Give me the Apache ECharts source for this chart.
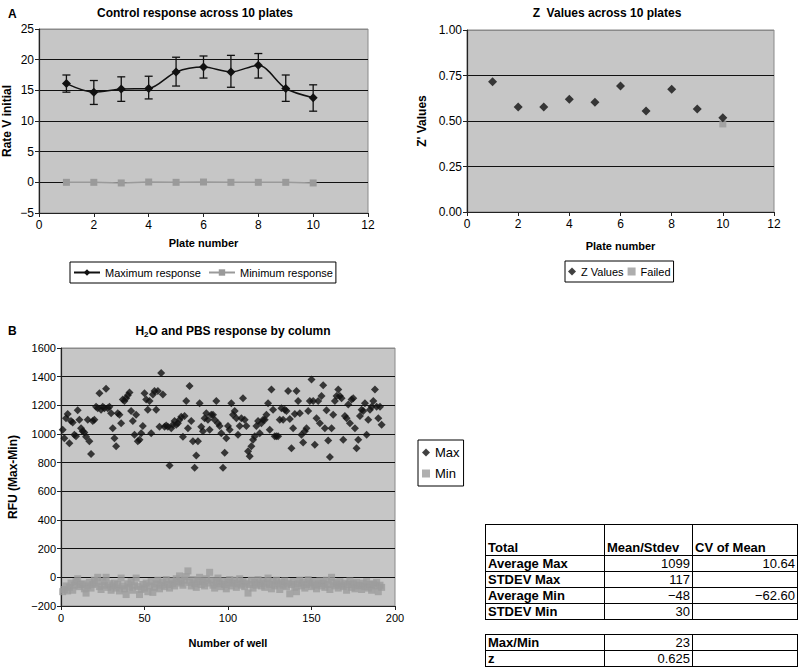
<!DOCTYPE html>
<html><head><meta charset="utf-8">
<script src="https://cdn.jsdelivr.net/npm/echarts@6/dist/echarts.min.js"></script>
<style>
html,body{margin:0;padding:0;background:#fff;}
#c{width:800px;height:667px;position:absolute;left:0;top:0;}
table.t{position:absolute;border-collapse:collapse;font-family:'Liberation Sans',Arial,sans-serif;font-size:13px;color:#000;table-layout:fixed;}
table.t td{border:1px solid #000;padding:0 2px;height:15px;line-height:14px;white-space:nowrap;overflow:hidden;}
table.t td.l{font-weight:bold;text-align:left;}
table.t td.n{text-align:right;}
table.t tr.h td{height:30px;vertical-align:bottom;font-weight:bold;}
</style></head><body>
<div id="c"></div>
<script>
// ---- Data ----
const plates = [1,2,3,4,5,6,7,8,9,10];
const maxResponse = [16.1,14.7,15.2,15.3,18.0,18.8,18.0,19.1,15.3,13.8];
const maxLow  = [14.7,12.7,13.2,13.6,15.7,17.0,15.5,17.0,13.2,11.6];
const maxHigh = [17.5,16.6,17.2,17.3,20.4,20.6,20.7,21.0,17.5,15.9];
const minResponse = [0.0,0.0,-0.1,0.05,0.0,0.05,0.0,0.0,0.0,-0.1];
const zValues = [0.716,0.577,0.577,0.619,0.603,0.692,0.555,0.674,0.566,0.518];
const failedPlates = [10];
const failedValues = [0.484];
const rfuMax = [
1030,970,1110,1140,935,1090,1080,995,985,1165,1100,1040,
1020,1010,980,1100,950,860,1090,1100,1190,1180,1285,1170,
1190,1180,1315,1180,1190,1145,1040,970,915,1145,1135,1075,
1240,1230,1250,1270,1290,1160,1090,995,1135,950,960,1005,
1055,1285,1240,1170,1230,1005,1275,1300,1170,1300,1050,1425,
1275,1050,1060,1050,780,1040,1065,1090,1065,1075,1100,1120,
980,1125,1230,1040,1335,1090,950,765,850,950,1215,1050,
1020,1110,1145,1100,1030,1135,1135,1100,1230,1075,1055,1005,
765,870,970,1055,1030,1215,1135,1160,1110,995,1055,1110,
1250,1100,1055,880,845,915,960,985,1055,1090,1005,1075,
1100,1100,1135,1215,1030,1310,1170,985,985,985,1100,1180,
1100,1170,1160,1300,1105,900,1040,1140,1300,1230,1145,995,
940,1020,1040,1160,1230,1380,1230,925,1110,1230,1075,1265,
1340,1040,1165,955,840,1040,1135,1230,1265,1310,1265,1250,
960,1125,1110,1205,1075,1240,1250,1040,900,960,1125,1170,
1160,1215,995,1100,1170,1190,1230,1310,1190,1110,1190,1065];
const rfuMin = [
-100,-85,-60,-95,-70,-40,-90,-55,-30,-10,-65,-50,
-45,-80,-110,-60,-35,-75,-50,-20,-40,0,-65,-85,
-30,-55,0,-70,-45,-90,-60,-40,-75,-50,-95,-5,
-60,-80,-120,-45,-70,-30,-90,-55,-5,-65,-120,-85,
-50,-75,-40,-100,-60,-30,-105,-70,-45,-20,-80,-55,
-35,-65,-15,-50,-75,-25,-45,-60,-10,-30,10,-40,
-55,-20,5,45,-35,-60,-15,-45,-70,-25,0,-50,
-30,-60,-10,-40,35,-20,-55,-75,-30,-5,-45,-65,
-25,-50,-80,-35,-15,-60,-40,-20,-70,-45,-10,-55,
-30,-65,-40,-110,-50,-20,-75,-35,-55,-15,-45,-60,
-25,-70,-40,-5,-50,-80,-30,-60,-20,-45,-85,-35,
-55,-25,-65,-40,-115,-50,-30,-70,-100,-45,-20,-60,
-35,-75,-50,-15,-40,-65,-30,-55,-80,-45,-25,-60,
-40,-70,-20,-50,-85,0,-35,-60,-45,-75,-30,-55,
-65,-40,-90,-50,-25,-70,-45,-80,-35,-60,-55,-85,
-40,-65,-30,-75,-50,-90,-45,-60,-35,-100,-55,-70];
const statsRows = [
  ['Total','Mean/Stdev','CV of Mean'],
  ['Average Max','1099','10.64'],
  ['STDEV Max','117',''],
  ['Average Min','\u221248','\u221262.60'],
  ['STDEV Min','30','']
];
const ratioRows = [
  ['Max/Min','23',''],
  ['z','0.625','']
];

// ---- Tables ----
function buildTable(rows, left, top, header){
  const t = document.createElement('table');
  t.className = 't';
  t.style.left = left+'px'; t.style.top = top+'px';
  const cg = document.createElement('colgroup');
  [119,88,105].forEach(w=>{const c=document.createElement('col');c.style.width=w+'px';cg.appendChild(c);});
  t.appendChild(cg);
  rows.forEach((r,i)=>{
    const tr=document.createElement('tr');
    if(header && i===0) tr.className='h';
    r.forEach((v,j)=>{
      const td=document.createElement('td');
      td.textContent=v;
      td.className = (j===0 || (header&&i===0)) ? 'l' : 'n';
      tr.appendChild(td);
    });
    t.appendChild(tr);
  });
  document.body.appendChild(t);
}
buildTable(statsRows,485,524,true);
buildTable(ratioRows,485,634,false);

// ---- Chart ----
const FONT = "'Liberation Sans', Arial, sans-serif";
const minus = v => String(v).replace('-', '\u2212');
const wells = rfuMax.map((_, i) => i + 1);
const gridBase = {show:true, backgroundColor:'#c6c6c6', borderColor:'#8a8a8a', borderWidth:1};
function yAxisBase(gi, min, max, interval, name, gap, nLines, fs, fmt){
  const cols = []; for(let i=0;i<nLines;i++) cols.push(i===nLines-1?'#8a8a8a':'#111');
  return {type:'value', gridIndex:gi, min, max, interval, name, nameLocation:'middle', nameGap:gap,
    nameTextStyle:{fontFamily:FONT, fontWeight:'bold', fontSize:12, color:'#000'},
    axisLine:{show:true, onZero:false, lineStyle:{color:'#222', width:1.2}},
    axisTick:{show:true, length:4, lineStyle:{color:'#222'}},
    axisLabel:{fontFamily:FONT, fontSize:fs, color:'#000', margin:5, formatter: fmt || minus},
    splitLine:{show:true, lineStyle:{color:cols, width:1.2}}};
}
function xAxisBase(gi, min, max, interval, name, gap, fs){
  return {type:'value', gridIndex:gi, min, max, interval, name, nameLocation:'middle', nameGap:gap,
    nameTextStyle:{fontFamily:FONT, fontWeight:'bold', fontSize:11, color:'#000'},
    axisLine:{show:true, onZero:false, lineStyle:{color:'#222', width:1.2}},
    axisTick:{show:true, length:4, lineStyle:{color:'#222'}},
    axisLabel:{fontFamily:FONT, fontSize:fs, color:'#000', margin:6},
    splitLine:{show:false}};
}
const chart = echarts.init(document.getElementById('c'), null, {renderer:'svg'});
const titleStyle = {fontFamily:FONT, fontWeight:'bold', fontSize:12, color:'#000'};
chart.setOption({
  animation:false,
  backgroundColor:'#fff',
  title:[
    {text:'A', left:3, top:3, textStyle:titleStyle},
    {text:'Control response across 10 plates', left:190, top:2, textAlign:'center', textStyle:titleStyle},
    {text:'Z  Values across 10 plates', left:602, top:2, textAlign:'center', textStyle:titleStyle},
    {text:'B', left:3, top:320, textStyle:titleStyle},
    {text:'{a|H}{s|2}{a|O and PBS response by column}', left:228, top:319, textAlign:'center',
     textStyle:{fontFamily:FONT, fontSize:12, rich:{a:{fontFamily:FONT,fontWeight:'bold',fontSize:12,color:'#000'}, s:{fontFamily:FONT,fontWeight:'bold',fontSize:8,color:'#000',padding:[6,0,0,0]}}}}
  ],
  grid:[
    Object.assign({left:39, top:29, width:329, height:184}, gridBase),
    Object.assign({left:467, top:30, width:307, height:182}, gridBase),
    Object.assign({left:61, top:348, width:334, height:258}, gridBase)
  ],
  xAxis:[
    xAxisBase(0,0,12,2,'Plate number',24,12),
    xAxisBase(1,0,12,2,'Plate number',28,12),
    xAxisBase(2,0,200,50,'Number of well',31,11)
  ],
  yAxis:[
    yAxisBase(0,-5,25,5,'Rate V initial',26,7,12),
    yAxisBase(1,0,1,0.25,"Z' Values",39,5,12, v=>v.toFixed(2)),
    yAxisBase(2,-200,1600,200,'RFU (Max-Min)',42,10,11)
  ],
  legend:[
    {left:70, top:262, orient:'horizontal', data:['Maximum response','Minimum response'],
     borderColor:'#000', borderWidth:1, borderRadius:0, padding:[5,3], itemGap:7, itemWidth:26, itemHeight:8,
     textStyle:{fontFamily:FONT, fontSize:11, color:'#000'}},
    {left:565, top:261, orient:'horizontal', data:['Z Values','Failed'],
     borderColor:'#000', borderWidth:1, borderRadius:0, padding:[5,3], itemGap:4, itemWidth:8, itemHeight:8,
     textStyle:{fontFamily:FONT, fontSize:11, color:'#000'}},
    {left:418, top:440, orient:'vertical', data:['Max','Min'],
     borderColor:'#000', borderWidth:1, borderRadius:0, padding:[6,4], itemGap:8, itemWidth:8, itemHeight:8,
     textStyle:{fontFamily:FONT, fontSize:13, color:'#000'}}
  ],
  series:[
    {name:'Minimum response', type:'line', xAxisIndex:0, yAxisIndex:0,
     data: plates.map((p,i)=>[p,minResponse[i]]), symbol:'rect', symbolSize:7,
     itemStyle:{color:'#9a9a9a'}, lineStyle:{color:'#9a9a9a', width:1.5}, z:3},
    {name:'errbars', type:'custom', xAxisIndex:0, yAxisIndex:0,
     data: plates.map((p,i)=>[p,maxLow[i],maxHigh[i]]),
     renderItem:(params, api)=>{
       const lo = api.coord([api.value(0), api.value(1)]);
       const hi = api.coord([api.value(0), api.value(2)]);
       const w = 4;
       const st = {stroke:'#111', lineWidth:1.3};
       return {type:'group', children:[
         {type:'line', shape:{x1:lo[0],y1:lo[1],x2:hi[0],y2:hi[1]}, style:st},
         {type:'line', shape:{x1:lo[0]-w,y1:lo[1],x2:lo[0]+w,y2:lo[1]}, style:st},
         {type:'line', shape:{x1:hi[0]-w,y1:hi[1],x2:hi[0]+w,y2:hi[1]}, style:st}
       ]};
     }, z:4, silent:true},
    {name:'Maximum response', type:'line', xAxisIndex:0, yAxisIndex:0, smooth:0.3,
     data: plates.map((p,i)=>[p,maxResponse[i]]), symbol:'diamond', symbolSize:9,
     itemStyle:{color:'#111'}, lineStyle:{color:'#111', width:1.5}, z:5},
    {name:'Z Values', type:'scatter', xAxisIndex:1, yAxisIndex:1,
     data: plates.map((p,i)=>[p,zValues[i]]), symbol:'diamond', symbolSize:9,
     itemStyle:{color:'#111'}, z:5},
    {name:'Failed', type:'scatter', xAxisIndex:1, yAxisIndex:1,
     data: failedPlates.map((p,i)=>[p,failedValues[i]]), symbol:'rect', symbolSize:7,
     itemStyle:{color:'#9a9a9a'}, z:4},
    {name:'Min', type:'scatter', xAxisIndex:2, yAxisIndex:2,
     data: wells.map((w,i)=>[w,rfuMin[i]]), symbol:'rect', symbolSize:7,
     itemStyle:{color:'#9c9c9c'}, z:3},
    {name:'Max', type:'scatter', xAxisIndex:2, yAxisIndex:2,
     data: wells.map((w,i)=>[w,rfuMax[i]]), symbol:'diamond', symbolSize:8,
     itemStyle:{color:'#111'}, z:4}
  ]
});
</script>
</body></html>
